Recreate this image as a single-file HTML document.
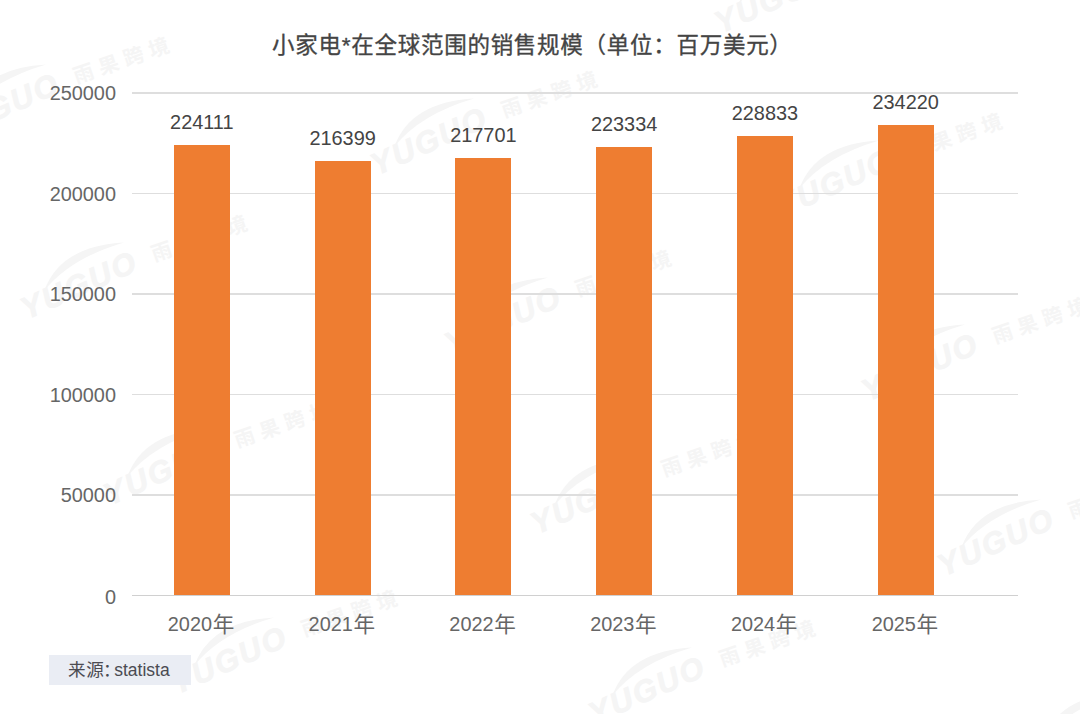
<!DOCTYPE html>
<html lang="zh"><head><meta charset="utf-8"><title>小家电在全球范围的销售规模</title>
<style>
html,body{margin:0;padding:0;background:#fff;}
body{width:1080px;height:714px;position:relative;overflow:hidden;font-family:"Liberation Sans",sans-serif;}
.abs{position:absolute;}
.grid{position:absolute;left:132px;width:886px;height:1.3px;background:#dedede;}
.bar{position:absolute;width:56px;background:#ee7d31;}
.yl{position:absolute;right:964.0px;font-size:19.9px;line-height:20px;height:20px;color:#666666;white-space:nowrap;}
.dl{position:absolute;width:120px;text-align:center;font-size:19.9px;line-height:20px;height:20px;color:#444444;white-space:nowrap;}
.xl{position:absolute;font-size:19.9px;line-height:20px;height:20px;color:#666666;white-space:nowrap;}
.sr{position:absolute;color:transparent;font-size:10px;line-height:10px;white-space:nowrap;overflow:hidden;}
.hid{position:absolute;left:100%;top:4px;width:20px;height:12px;overflow:hidden;color:transparent;font-size:10px;line-height:12px;}
svg.ov{position:absolute;left:0;top:0;width:1080px;height:714px;pointer-events:none;}
</style></head>
<body>
<svg class="ov" viewBox="0 0 1080 714"><defs><g id="wm" fill="#f5f5f5"><text x="0" y="0" transform="rotate(-1.5 125 -10)" font-family="Liberation Sans, sans-serif" font-weight="bold" font-style="italic" font-size="31" letter-spacing="2.2" stroke="#f5f5f5" stroke-width="0.7">YUGUO</text><path d="M28 -17 Q60 -52 120 -31 Q64 -37 28 -17 Z"/><g transform="translate(140.5 -1.5) rotate(3.5)"><text x="0 26.5 53 79.5" y="0" font-family="'Liberation Sans', 'Noto Sans CJK SC', sans-serif" font-weight="bold" font-size="20.5">雨果跨境</text></g></g></defs><use href="#wm" transform="translate(-249 653) rotate(-22.5)"/><use href="#wm" transform="translate(-173 837) rotate(-22.5)"/><use href="#wm" transform="translate(-53 139) rotate(-22.5)"/><use href="#wm" transform="translate(25 317) rotate(-22.5)"/><use href="#wm" transform="translate(108 503) rotate(-22.5)"/><use href="#wm" transform="translate(175 692) rotate(-22.5)"/><use href="#wm" transform="translate(251 875) rotate(-22.5)"/><use href="#wm" transform="translate(295 -7) rotate(-22.5)"/><use href="#wm" transform="translate(375 173) rotate(-22.5)"/><use href="#wm" transform="translate(449 352) rotate(-22.5)"/><use href="#wm" transform="translate(535 532) rotate(-22.5)"/><use href="#wm" transform="translate(593 722) rotate(-22.5)"/><use href="#wm" transform="translate(719 31) rotate(-22.5)"/><use href="#wm" transform="translate(780 215) rotate(-22.5)"/><use href="#wm" transform="translate(866 399) rotate(-22.5)"/><use href="#wm" transform="translate(942 574) rotate(-22.5)"/><use href="#wm" transform="translate(1023 767) rotate(-22.5)"/></svg>
<div class="grid" style="top:595.20px;background:#d0d0d0"></div>
<div class="yl" style="top:586.50px">0</div>
<div class="grid" style="top:494.30px;background:#dedede"></div>
<div class="yl" style="top:485.40px">50000</div>
<div class="grid" style="top:393.80px;background:#dedede"></div>
<div class="yl" style="top:384.90px">100000</div>
<div class="grid" style="top:293.30px;background:#dedede"></div>
<div class="yl" style="top:284.40px">150000</div>
<div class="grid" style="top:192.80px;background:#dedede"></div>
<div class="yl" style="top:183.90px">200000</div>
<div class="grid" style="top:92.30px;background:#dedede"></div>
<div class="yl" style="top:83.40px">250000</div>
<div class="bar" style="left:173.80px;top:145.04px;height:450.46px"></div>
<div class="dl" style="left:141.80px;top:112.24px">224111</div>
<div class="bar" style="left:314.58px;top:160.54px;height:434.96px"></div>
<div class="dl" style="left:282.58px;top:127.74px">216399</div>
<div class="bar" style="left:455.36px;top:157.92px;height:437.58px"></div>
<div class="dl" style="left:423.36px;top:125.12px">217701</div>
<div class="bar" style="left:596.14px;top:146.60px;height:448.90px"></div>
<div class="dl" style="left:564.14px;top:113.80px">223334</div>
<div class="bar" style="left:736.92px;top:135.55px;height:459.95px"></div>
<div class="dl" style="left:704.92px;top:102.75px">228833</div>
<div class="bar" style="left:877.70px;top:124.72px;height:470.78px"></div>
<div class="dl" style="left:845.70px;top:91.92px">234220</div>
<div class="sr" style="left:271.8px;top:34px;width:510px;height:22px">小家电*在全球范围的销售规模（单位：百万美元）</div>
<div class="xl" style="left:167.80px;top:614.30px">2020<span class="hid">年</span></div>
<div class="xl" style="left:308.58px;top:614.30px">2021<span class="hid">年</span></div>
<div class="xl" style="left:449.36px;top:614.30px">2022<span class="hid">年</span></div>
<div class="xl" style="left:590.14px;top:614.30px">2023<span class="hid">年</span></div>
<div class="xl" style="left:730.92px;top:614.30px">2024<span class="hid">年</span></div>
<div class="xl" style="left:871.70px;top:614.30px">2025<span class="hid">年</span></div>
<div class="abs" style="left:49.0px;top:655.2px;width:142.0px;height:29.399999999999977px;background:#eaedf4"></div>
<div class="sr" style="left:68px;top:662px;width:46px;height:16px">来源：</div>
<div class="abs" style="left:114.2px;top:659.7px;height:20px;line-height:20px;font-size:17.5px;color:#4b4b52;white-space:nowrap">statista</div>
<svg class="ov" viewBox="0 0 1080 714">
<text x="272.09" y="52.90" font-family="'Liberation Sans', 'Noto Sans CJK SC', sans-serif" font-size="22.5" fill="#444444" stroke="#444444" stroke-width="0.32" stroke-linejoin="round" textLength="519.8" lengthAdjust="spacing">小家电*在全球范围的销售规模（单位：百万美元）</text>
<g fill="#666666" font-family="'Liberation Sans', 'Noto Sans CJK SC', sans-serif" font-size="21.6">
<text x="212.67" y="631.60">年</text>
<text x="353.45" y="631.60">年</text>
<text x="494.23" y="631.60">年</text>
<text x="635.01" y="631.60">年</text>
<text x="775.79" y="631.60">年</text>
<text x="916.57" y="631.60">年</text>
</g>
<text x="68.10 86.30 102.90" y="676.20" font-family="'Liberation Sans', 'Noto Sans CJK SC', sans-serif" font-size="17.6" fill="#4b4b52">来源：</text>
</svg>
</body></html>
